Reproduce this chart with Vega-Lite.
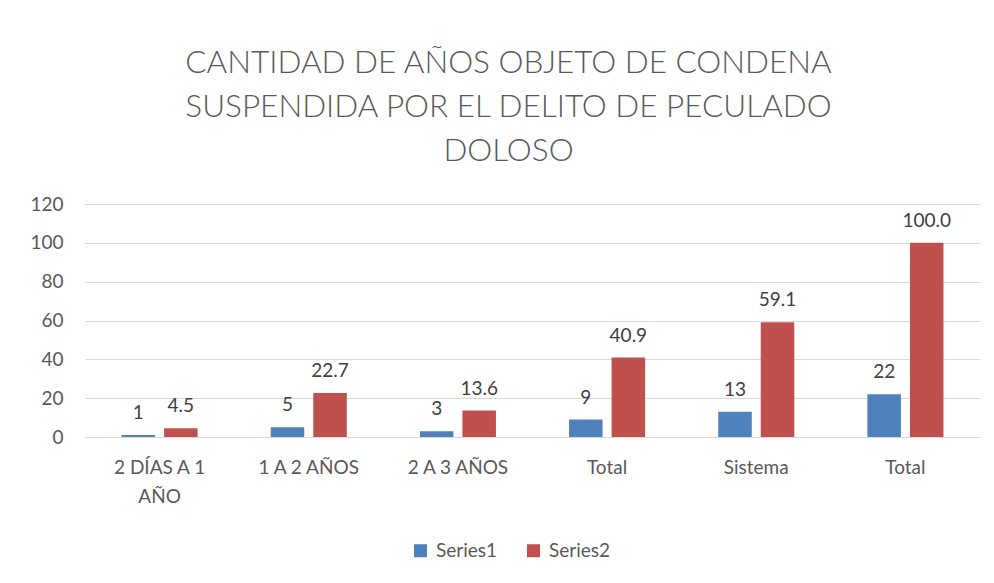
{
  "$schema": "https://vega.github.io/schema/vega-lite/v6.json",
  "width": 895,
  "height": 233,
  "autosize": {"type": "none"},
  "padding": {"left": 85, "top": 204, "right": 14, "bottom": 146},
  "background": "white",
  "config": {"view": {"stroke": null}},
  "title": {
    "text": ["CANTIDAD DE AÑOS OBJETO DE CONDENA", "SUSPENDIDA POR EL DELITO DE PECULADO", "DOLOSO"],
    "font": "Lato",
    "fontSize": 31.5,
    "fontWeight": 300,
    "color": "#595959",
    "lineHeight": 44,
    "anchor": "middle",
    "frame": "group",
    "baseline": "bottom",
    "offset": -4,
    "dx": -24
  },
  "data": {
    "values": [
      {"cat": "2 DÍAS A 1 AÑO", "series": "Series1", "value": 1},
      {"cat": "2 DÍAS A 1 AÑO", "series": "Series2", "value": 4.5},
      {"cat": "1 A 2 AÑOS", "series": "Series1", "value": 5},
      {"cat": "1 A 2 AÑOS", "series": "Series2", "value": 22.7},
      {"cat": "2 A 3 AÑOS", "series": "Series1", "value": 3},
      {"cat": "2 A 3 AÑOS", "series": "Series2", "value": 13.6},
      {"cat": "Total", "series": "Series1", "value": 9},
      {"cat": "Total", "series": "Series2", "value": 40.9},
      {"cat": "Sistema", "series": "Series1", "value": 13},
      {"cat": "Sistema", "series": "Series2", "value": 59.1},
      {"cat": "Total ", "series": "Series1", "value": 22},
      {"cat": "Total ", "series": "Series2", "value": 100.0}
    ]
  },
  "encoding": {
    "x": {
      "field": "cat",
      "type": "nominal",
      "sort": null,
      "scale": {"paddingInner": 0.49, "paddingOuter": 0.245},
      "axis": {
        "title": null,
        "labelAngle": 0,
        "labelFont": "Lato",
        "labelFontSize": 19,
        "labelColor": "#595959",
        "labelPadding": 21,
        "labelLineHeight": 29,
        "labelBaseline": "top",
        "ticks": false,
        "domainColor": "#d9d9d9",
        "domainWidth": 1,
        "labelExpr": "datum.label == '2 DÍAS A 1 AÑO' ? ['2 DÍAS A 1', 'AÑO'] : trim(datum.label)"
      }
    },
    "xOffset": {
      "field": "series",
      "type": "nominal",
      "scale": {"paddingInner": 0.212, "paddingOuter": 0}
    },
    "y": {
      "field": "value",
      "type": "quantitative",
      "scale": {"domain": [0, 120], "nice": false},
      "axis": {
        "title": null,
        "values": [0, 20, 40, 60, 80, 100, 120],
        "labelFont": "Lato",
        "labelFontSize": 19,
        "labelColor": "#595959",
        "labelPadding": 22,
        "ticks": false,
        "domain": false,
        "gridColor": "#d9d9d9",
        "gridWidth": 1
      }
    }
  },
  "layer": [
    {
      "mark": {"type": "bar"},
      "encoding": {
        "color": {
          "field": "series",
          "type": "nominal",
          "scale": {"domain": ["Series1", "Series2"], "range": ["#4f81bd", "#c0504d"]},
          "legend": {
            "title": null,
            "orient": "none",
            "legendX": 326,
            "legendY": 337,
            "direction": "horizontal",
            "symbolType": "square",
            "symbolSize": 169,
            "symbolStrokeWidth": 0,
            "labelFont": "Lato",
            "labelFontSize": 19,
            "labelColor": "#595959",
            "columnPadding": 26,
            "labelOffset": 6
          }
        }
      }
    },
    {
      "mark": {"type": "text", "baseline": "alphabetic", "dy": -16, "font": "Lato", "fontSize": 19, "color": "#404040"},
      "encoding": {
        "text": {
          "condition": {"test": "datum.series == 'Series2'", "field": "value", "format": ".1f"},
          "field": "value",
          "format": "d"
        }
      }
    }
  ]
}
